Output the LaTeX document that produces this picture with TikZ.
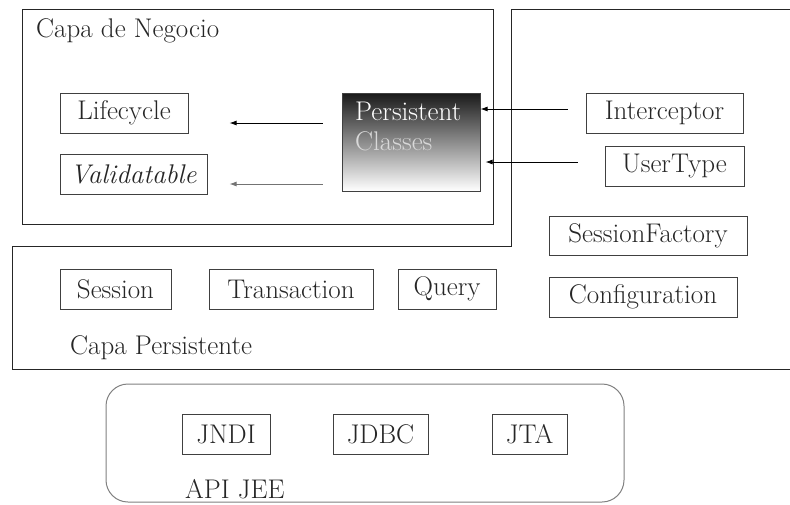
\documentclass[tikz,border=0pt]{standalone}
\usepackage{fontspec}
\usetikzlibrary{arrows.meta}
\tikzset{
  box/.style={draw=black!75, line width=1pt, inner sep=0pt, minimum height=40pt},
  lbl/.style={anchor=base west, inner sep=0pt},
  arr/.style={-{Latex[length=7pt,width=5pt]}, line width=0.9pt},
  frame/.style={line width=1pt, black!85},
}
\begin{document}
\begin{tikzpicture}[x=1pt, y=-1pt, font=\fontsize{27}{30}\selectfont, text=black!85]
    \useasboundingbox (0,0) rectangle (790,504);
    % capas
    \draw[frame] (22,9) rectangle (493,224);
    \draw[frame] (790,9) -- (511,9) -- (511,246) -- (12,246) -- (12,369) -- (790,369);
    \draw[frame, black!50, rounded corners=22pt] (106,384) rectangle (624,502);
    \node[lbl] (negocio) at (36,37) {Capa de Negocio};
    \node[lbl] (persistente) at (70,354) {Capa Persistente};
    \node[lbl] (apijee) at (185,498) {API JEE};
    % negocio
    \node[box, minimum width=128pt] (lifecycle) at (124,113) {Lifecycle};
    \node[box, minimum width=147pt] (validatable) at (133.5,174) {\itshape Validatable};
    \node[box, minimum width=138pt, minimum height=98pt, top color=black!90, bottom color=white] (pc) at (411,142) {};
    \node[lbl, text=white] (pcname) at (355,120) {Persistent};
    \node[lbl, text=white!85!black] (pcname2) at (355,150) {Classes};
    \node[box, minimum width=157pt] (interceptor) at (664.5,113) {Interceptor};
    \node[box, minimum width=139pt] (usertype) at (674.5,166) {UserType};
    % persistente
    \node[box, minimum width=198pt, minimum height=39pt] (sessionfactory) at (648,235.5) {SessionFactory};
    \node[box, minimum width=188pt] (configuration) at (643,297) {Configuration};
    \node[box, minimum width=111pt] (session) at (115.5,289) {Session};
    \node[box, minimum width=164pt] (transaction) at (291,289) {Transaction};
    \node[box, minimum width=98pt] (query) at (447,289) {Query};
    % api jee
    \node[box, minimum width=88pt] (jndi) at (226,434) {JNDI};
    \node[box, minimum width=95pt] (jdbc) at (380.5,434) {JDBC};
    \node[box, minimum width=75pt] (jta) at (529.5,434) {JTA};
    % flechas
    \draw[arr, shorten <=19pt, shorten >=41pt] ([yshift=19pt]pc.west) -- ([yshift=-10pt]lifecycle.east);
    \draw[arr, black!55, shorten <=19pt, shorten >=22pt] ([yshift=-42pt]pc.west) -- ([yshift=-10pt]validatable.east);
    \draw[arr, shorten <=18pt] ([yshift=4pt]interceptor.west) -- ([yshift=33pt]pc.east);
    \draw[arr, shorten <=27pt, shorten >=5pt] ([yshift=4pt]usertype.west) -- ([yshift=-20pt]pc.east);
\end{tikzpicture}
\end{document}
